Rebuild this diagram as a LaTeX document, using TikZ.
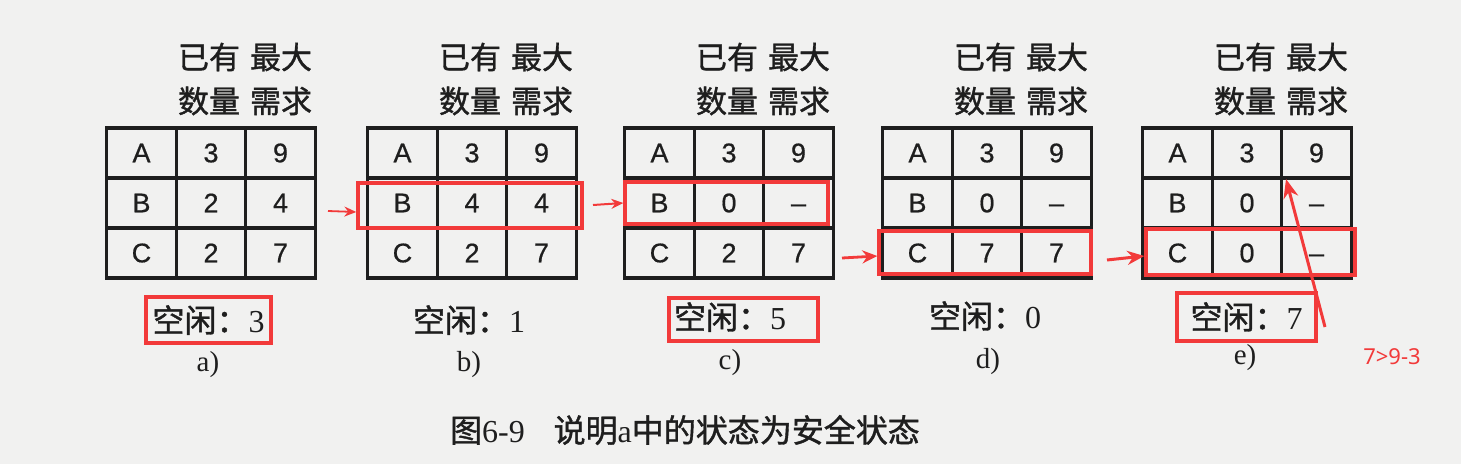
\documentclass[tikz,border=0pt]{standalone}
\usepackage{fontspec}
\setmainfont{Liberation Serif}
\setsansfont{Liberation Sans}
\newfontfamily\tabfont[FakeBold=0.6]{Liberation Sans}
\newfontfamily\cjk{Noto Sans CJK SC}
\newfontfamily\cjkm[FakeBold=1.2]{Noto Sans CJK SC}
\newfontfamily\notosans{Noto Sans}
\usetikzlibrary{arrows.meta}
\definecolor{mred}{HTML}{F23A3A}
\definecolor{bg}{HTML}{F1F1F0}
\definecolor{ink}{HTML}{1E1E1E}
\newcommand\dsh{\vphantom{0}–}
\newcommand\ptable[8]{%
  \node[head] (#1h1) at (#2+102,57) {已有};
  \node[head] (#1h2) at (#2+174,57) {最大};
  \node[head] (#1h3) at (#2+102,101) {数量};
  \node[head] (#1h4) at (#2+174,101) {需求};
  \node[cell] (#1A1) at (#2+34.5,153) {A};
  \node[cell] (#1A2) at (#2+104,153) {#3};
  \node[cell] (#1A3) at (#2+173.5,153) {#4};
  \node[cell] (#1B1) at (#2+34.5,203) {B};
  \node[cell] (#1B2) at (#2+104,203) {#5};
  \node[cell] (#1B3) at (#2+173.5,203) {#6};
  \node[cell] (#1C1) at (#2+34.5,253) {C};
  \node[cell] (#1C2) at (#2+104,253) {#7};
  \node[cell] (#1C3) at (#2+173.5,253) {#8};
}
\begin{document}
\begin{tikzpicture}[x=1pt,y=-1pt,
  cell/.style={draw=ink, line width=3.2pt, minimum width=69.5pt, minimum height=50pt,
    inner sep=0pt, font=\tabfont\fontsize{27}{27}\selectfont, text=ink},
  head/.style={font=\cjkm\fontsize{31}{31}\selectfont, text=ink, inner sep=0pt},
  free/.style={font=\fontsize{32}{32}\selectfont, text=ink, inner sep=0pt},
  sub/.style={font=\fontsize{29}{29}\selectfont, text=ink, inner sep=0pt},
  redbox/.style={draw=mred, line width=3.4pt, inner sep=0pt},
  redarrow/.style={draw=mred, line width=#1},
  redarrow/.default=2pt
]
\fill[bg] (0,0) rectangle (1461,464);
\useasboundingbox (0,0) rectangle (1461,464);

\ptable{a}{107}{3}{9}{2}{4}{2}{7}
\ptable{b}{368}{3}{9}{4}{4}{2}{7}
\ptable{c}{625}{3}{9}{0}{\dsh}{2}{7}
\ptable{d}{883}{3}{9}{0}{\dsh}{7}{7}
\ptable{e}{1143}{3}{9}{0}{\dsh}{0}{\dsh}

% free amounts
\node[free, redbox, minimum width=125pt, minimum height=46pt] (fa) at (208.5,320) {{\cjkm 空闲：}3};
\node[free] (fb) at (469,320) {{\cjkm 空闲：}1};
\node[redbox, minimum width=149pt, minimum height=43pt] (rfc) at (743.5,319.5) {};
\node[free] (fc) at (730,317) {{\cjkm 空闲：}5};
\node[free] (fd) at (985,316) {{\cjkm 空闲：}0};
\node[free, redbox, minimum width=139pt, minimum height=48pt] (fe) at (1246.5,317) {{\cjkm 空闲：}7};

% sub labels
\node[sub] (la) at (208,365) {a)};
\node[sub] (lb) at (469,365) {b)};
\node[sub] (lc) at (730,363) {c)};
\node[sub] (ld) at (988,362) {d)};
\node[sub] (le) at (1245,358) {e)};

% red row boxes
\node[redbox, minimum width=224pt, minimum height=45pt] (rb) at (470,205.5) {};
\node[redbox, minimum width=203pt, minimum height=42pt] (rc) at (726.5,203) {};
\node[redbox, minimum width=212pt, minimum height=43pt] (rd) at (985,252.5) {};
\node[redbox, minimum width=209pt, minimum height=46pt] (re) at (1250.5,252) {};

% arrows
\coordinate (sab) at (328,211);
\coordinate (sbc) at (593,205);
\coordinate (scd) at (842,258);
\coordinate (sde) at (1107,260);
\draw[redarrow=1.8pt, -{Stealth[length=12pt,width=10pt]}] (sab) -- (rb.west |- 0,212);
\draw[redarrow=2pt, -{Stealth[length=12pt,width=10pt]}] (sbc) -- (rc.west |- 0,203);
\draw[redarrow=2.8pt, -{Stealth[length=15pt,width=13pt]}] (scd) -- (rd.west |- 0,256);
\draw[redarrow=3pt, -{Stealth[length=17pt,width=14pt]}] (sde) -- (re.west |- 0,256);
\coordinate (slong) at (1325,327);
\coordinate (tlong) at (1286,179);
\draw[redarrow=3pt, -{Stealth[length=19pt,width=15pt]}] (slong) -- (tlong);
\node[font=\notosans\fontsize{22}{22}\selectfont, text=mred, inner sep=0pt] (note) at (1392,357) {7>9-3};

% caption
\node[font=\fontsize{32}{32}\selectfont, text=ink, inner sep=0pt] (cap) at (685,430) {{\cjkm 图}6-9\hspace{0.9em}{\cjkm 说明}a{\cjkm 中的状态为安全状态}};
\end{tikzpicture}
\end{document}
